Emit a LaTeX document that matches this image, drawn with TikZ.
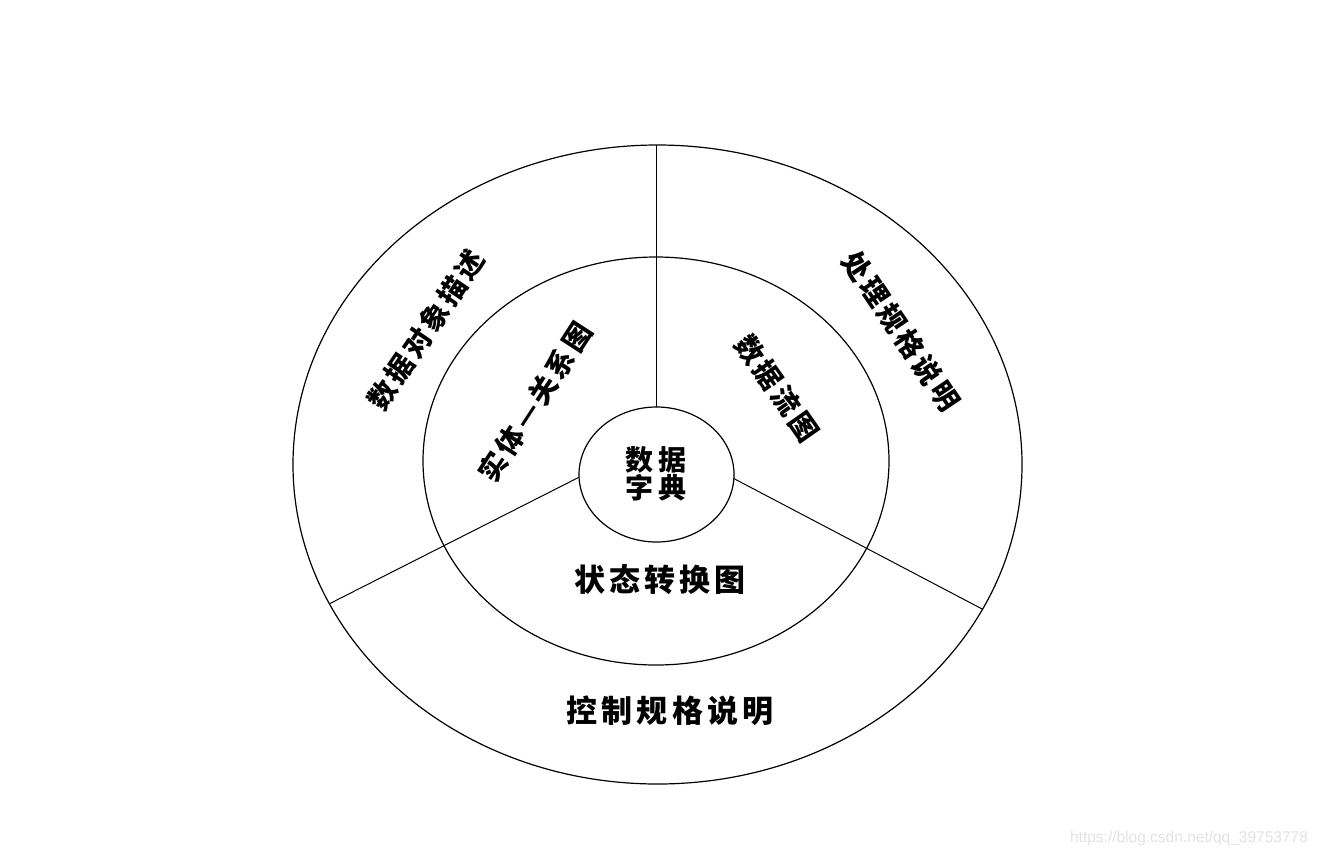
\documentclass[tikz,border=0pt]{standalone}
\usepackage{fontspec}
\usetikzlibrary{shapes.geometric}
\newfontfamily\cjk{Noto Sans CJK SC}
\newfontfamily\wmfont{Liberation Sans}
\begin{document}
\begin{tikzpicture}[x=1pt,y=-1pt,
  ring/.style={draw, ellipse, inner sep=0pt, outer sep=0pt, line width=1.2pt},
  divider/.style={line width=1pt},
  bigtxt/.style={inner sep=0pt, font=\cjk\bfseries\addfontfeatures{LetterSpace=13}\fontsize{31}{31}\selectfont},
  arctxt/.style={inner sep=0pt, font=\cjk\bfseries\addfontfeatures{LetterSpace=12}\fontsize{28}{28}\selectfont},
  coretxt/.style={inner sep=0pt, align=center, font=\cjk\addfontfeatures{LetterSpace=20}\fontsize{28}{28.5}\selectfont},
  wmtxt/.style={inner sep=0pt, text=black!11, font=\wmfont\fontsize{15.5}{15.5}\selectfont}
]
\useasboundingbox[fill=white] (0,0) rectangle (1321,857);

\node[ring, minimum width=729pt, minimum height=639pt] (outer) at (657.5,464.5) {};
\node[ring, minimum width=466pt, minimum height=408pt] (middle) at (656,461) {};
\node[ring, fill=white, minimum width=155pt, minimum height=135pt] (inner) at (656.5,474.5) {};

\draw[line width=1.5pt] (inner.north) -- (inner.north |- outer.north);
\draw[divider] (inner.182) -- (outer.203.8);
\draw[divider] (inner.357.4) -- (outer.336.4);

\node[coretxt] (core) at (659,474) {\textbf{数据}\\\textbf{字典}};
\node[bigtxt] (state) at (660,580) {状态转换图};
\node[bigtxt] (ctrl) at (670,711) {控制规格说明};
\node[arctxt, rotate=56] (dobj) at (426,330) {数据对象描述};
\node[arctxt, rotate=57] (er) at (535,402) {实体—关系图};
\node[arctxt, rotate=-56] (proc) at (901,331) {处理规格说明};
\node[arctxt, rotate=-55] (dfd) at (777,388) {数据流图};

\node[wmtxt] (wm) at (1189,838) {https://blog.csdn.net/qq\_39753778};
\end{tikzpicture}
\end{document}
